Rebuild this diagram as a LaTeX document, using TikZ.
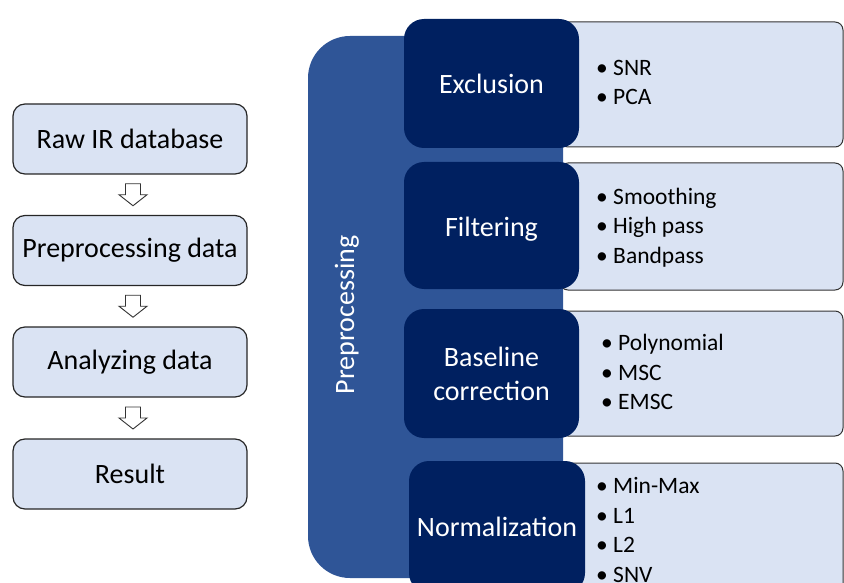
\documentclass[tikz,border=0pt]{standalone}
\usepackage{fontspec}
\setmainfont{Carlito}
\usetikzlibrary{calc}
\definecolor{panelblue}{HTML}{2F5597}
\definecolor{navy}{HTML}{002060}
\definecolor{lightfill}{HTML}{DAE3F3}
\begin{document}
\begin{tikzpicture}[x=1pt,y=-1pt,
  stepbox/.style={draw=black!85, line width=1.2pt, fill=lightfill, rounded corners=12pt, minimum width=234pt, minimum height=70pt, inner sep=0pt, font=\fontsize{28}{34}\selectfont},
  navybox/.style={fill=navy, text=white, rounded corners=20pt, inner sep=0pt, align=center, font=\fontsize{28}{34}\selectfont},
  itembox/.style={draw=black!80, line width=1pt, fill=lightfill, rounded corners=8pt, inner sep=0pt, minimum width=283pt},
  bullets/.style={anchor=west, align=left, inner sep=0pt, font=\fontsize{23.5}{29.5}\selectfont},
  hollowarrow/.style={draw=black!80, line width=0.9pt, fill=white, line join=miter}]
\clip (0,0) rectangle (844,583);

% left flow
\node[stepbox] (raw) at (130,139) {Raw IR database};
\node[stepbox] (pre) at (130,250.5) {Preprocessing data};
\node[stepbox] (ana) at (130,362) {Analyzing data};
\node[stepbox] (res) at (130,474) {Result};
\foreach \u/\l in {raw/pre, pre/ana, ana/res}{
  \coordinate (m) at ($(\u.south)!0.5!(\l.north)+(3,0)$);
  \draw[hollowarrow] ($(m)+(-7.5,-11)$) -- ($(m)+(7.5,-11)$) -- ($(m)+(7.5,0)$) -- ($(m)+(14,0)$) -- ($(m)+(0,11)$) -- ($(m)+(-14,0)$) -- ($(m)+(-7.5,0)$) -- cycle;
}

% panel
\fill[panelblue, rounded corners=42pt] (563,36) -- (308,36) -- (308,578) -- (563,578) -- cycle;
\node[text=white, rotate=90, font=\fontsize{28}{34}\selectfont] (prep) at (347,315) {Preprocessing};

% item boxes
\node[itembox, minimum height=125pt] (iexc) at (701.5,84.5) {};
\node[itembox, minimum height=127pt] (ifil) at (701.5,226.5) {};
\node[itembox, minimum height=125pt] (ibas) at (701.5,373.5) {};
\node[itembox, minimum height=137pt] (inor) at (701.5,531.5) {};

% navy boxes
\node[navybox, minimum width=175pt, minimum height=129pt, text height=21pt, text depth=1pt] (exc) at (491.5,83.5) {Exclusion};
\node[navybox, minimum width=175pt, minimum height=127pt, text height=20pt, text depth=6pt] (fil) at (491.5,225.5) {\raisebox{-4pt}{Filtering}};
\node[navybox, minimum width=175pt, minimum height=129pt] (bas) at (491.5,373.5) {Baseline\\correction};
\node[navybox, minimum width=176pt, minimum height=132pt] (nor) at (497,527) {Normalization};

% bullet lists
\node[bullets] (lexc) at (596,82.5) {• SNR\\• PCA};
\node[bullets] (lfil) at (596,227.5) {• Smoothing\\• High pass\\• Bandpass};
\node[bullets] (lbas) at (601,372) {• Polynomial\\• MSC\\• EMSC};
\node[bullets] (lnor) at (596,530) {• Min-Max\\• L1\\• L2\\• SNV};
\end{tikzpicture}
\end{document}
